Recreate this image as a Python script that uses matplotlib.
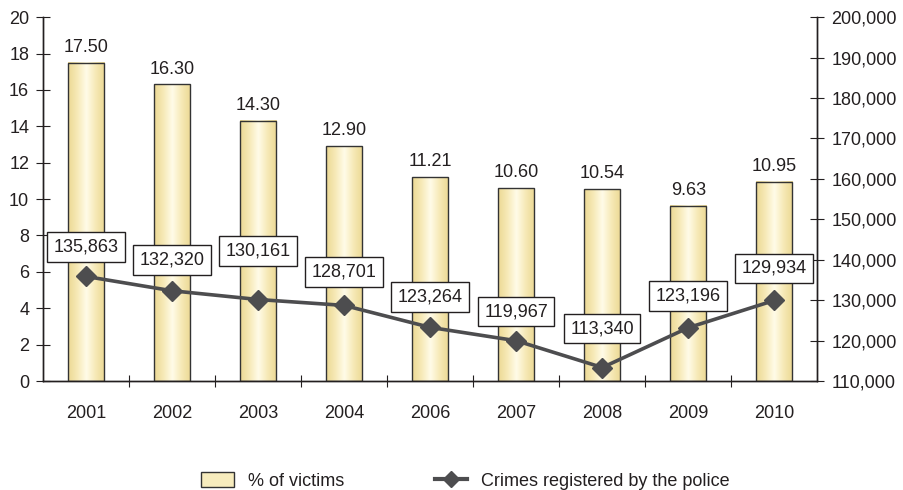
import matplotlib
matplotlib.use('Agg')
import matplotlib.pyplot as plt
import numpy as np
from matplotlib.colors import LinearSegmentedColormap
from matplotlib.patches import Patch
from matplotlib.lines import Line2D
from matplotlib.ticker import FuncFormatter

plt.rcParams['font.family'] = ['Liberation Sans', 'DejaVu Sans']

years = ['2001', '2002', '2003', '2004', '2006', '2007', '2008', '2009', '2010']
victims_pct = [17.50, 16.30, 14.30, 12.90, 11.21, 10.60, 10.54, 9.63, 10.95]
crimes = [135863, 132320, 130161, 128701, 123264, 119967, 113340, 123196, 129934]

# vertical offset (points) of each value box above its marker
box_offsets = [21, 22, 35, 24, 22, 21, 28, 23, 23]

text_col = '#231f20'
line_col = '#4d4d4f'
fs = 13
grad = LinearSegmentedColormap.from_list(
    'bar', ['#ecd893', '#f6e9b6', '#fffbe8', '#f6e9b6', '#ecd893'])

fig = plt.figure(figsize=(9.04, 4.9), dpi=100)
ax = fig.add_axes([0.0476, 0.2224, 0.8566, 0.7426])
ax2 = ax.twinx()

x = np.arange(len(years))
w = 0.42
bars = ax.bar(x, victims_pct, width=w, facecolor='none', edgecolor='#333333',
              linewidth=1.0, zorder=3)
gimg = np.linspace(0, 1, 256).reshape(1, -1)
for b in bars:
    x0, y0 = b.get_x(), b.get_y()
    ax.imshow(gimg, cmap=grad, aspect='auto', zorder=2,
              extent=[x0, x0 + b.get_width(), y0, y0 + b.get_height()])
for xi, v in zip(x, victims_pct):
    ax.annotate(f'{v:.2f}', (xi, v), xytext=(0, 5), textcoords='offset points',
                ha='center', va='bottom', fontsize=fs, color=text_col)

ax.set_xlim(-0.5, len(years) - 0.5)
ax.set_ylim(0, 20)
ax.set_yticks(np.arange(0, 21, 2))
ax.set_xticks(np.arange(0.5, len(years) - 1, 1))
ax.set_xticklabels([])
ax.set_xticks(x, minor=True)
ax.set_xticklabels(years, minor=True)
ax.tick_params(axis='x', which='minor', length=0, pad=17, labelsize=fs,
               labelcolor=text_col)
ax.tick_params(axis='x', which='major', direction='inout', length=9,
               color=text_col)
ax.tick_params(axis='y', direction='inout', length=10, labelsize=fs,
               labelcolor=text_col, color=text_col, pad=5)

ax2.plot(x, crimes, color=line_col, linewidth=2.6, marker='D', markersize=10,
         zorder=5)
for xi, v, off in zip(x, crimes, box_offsets):
    ax2.annotate(f'{v:,}', (xi, v), xytext=(0, off), textcoords='offset points',
                 ha='center', va='center', fontsize=fs, color=text_col,
                 bbox=dict(boxstyle='square,pad=0.35', facecolor='white',
                           edgecolor='#231f20', linewidth=1.0), zorder=6)
ax2.set_ylim(110000, 200000)
ax2.set_yticks(np.arange(110000, 200001, 10000))
ax2.yaxis.set_major_formatter(FuncFormatter(lambda v, p: f'{int(v):,}'))
ax2.tick_params(axis='y', direction='inout', length=10, labelsize=fs,
                labelcolor=text_col, color=text_col, pad=5)

ax.set_zorder(ax2.get_zorder() - 1)
ax2.patch.set_visible(False)

for a in (ax, ax2):
    a.spines['top'].set_visible(False)
    for s in a.spines.values():
        s.set_color(text_col)
        s.set_linewidth(1.0)

handles = [Patch(facecolor='#f7ecbd', edgecolor='#333333', linewidth=1.0),
           Line2D([], [], color=line_col, linewidth=3, marker='D', markersize=8)]
fig.legend(handles, ['% of victims', 'Crimes registered by the police'],
           loc='center', bbox_to_anchor=(0.515, 0.018), ncol=2, frameon=False,
           fontsize=fs, handlelength=1.8, handleheight=0.9, columnspacing=5,
           labelcolor=text_col, borderpad=0)

fig.savefig('out.png', dpi=100)
